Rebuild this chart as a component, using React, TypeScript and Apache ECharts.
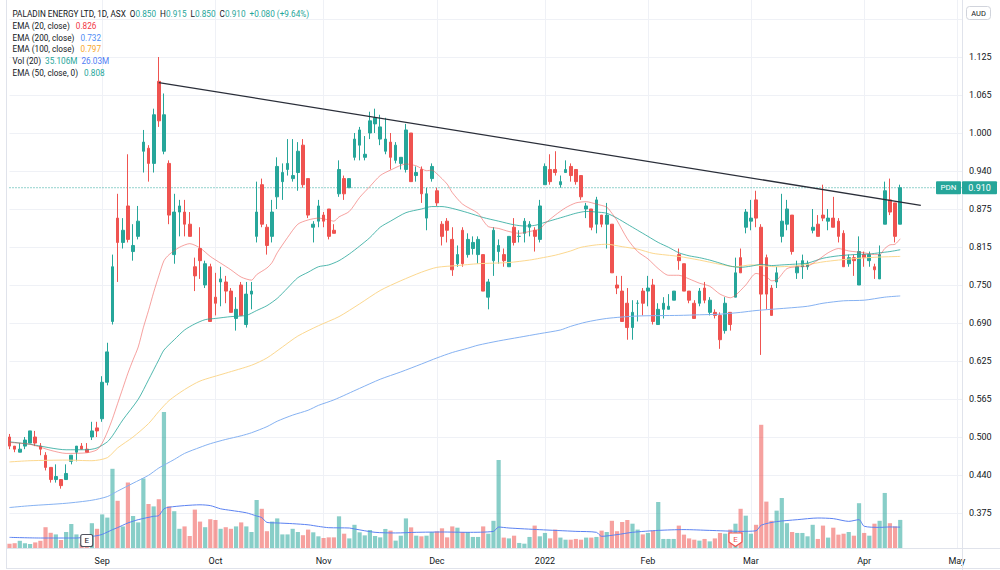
import React, { useEffect, useRef } from "react";
import * as echarts from "echarts";

// ---- Daily bars (oldest first) ----
const opens = [
  0.5, 0.485, 0.475, 0.485, 0.49, 0.5, 0.485, 0.47, 0.45, 0.43,
  0.43, 0.43, 0.46, 0.475, 0.485, 0.48, 0.5, 0.515, 0.53, 0.59,
  0.69, 0.86, 0.82, 0.88, 0.805, 0.83, 0.97, 0.975, 0.95, 1.085,
  0.97, 0.95, 0.8, 0.87, 0.87, 0.85, 0.78, 0.81, 0.75, 0.78,
  0.73, 0.755, 0.755, 0.74, 0.695, 0.75, 0.685, 0.735, 0.83, 0.915,
  0.845, 0.83, 0.895, 0.92, 0.94, 0.925, 0.935, 0.98, 0.925, 0.845,
  0.855, 0.865, 0.875, 0.84, 0.9, 0.925, 0.91, 0.96, 0.98, 0.96,
  1.0, 1.015, 0.99, 0.97, 0.985, 0.955, 0.95, 0.94, 1.0, 0.93,
  0.94, 0.86, 0.925, 0.905, 0.85, 0.855, 0.825, 0.785, 0.84, 0.8,
  0.81, 0.8, 0.8, 0.73, 0.79, 0.805, 0.8, 0.78, 0.845, 0.83,
  0.835, 0.845, 0.84, 0.825, 0.915, 0.94, 0.94, 0.915, 0.935, 0.945,
  0.94, 0.93, 0.875, 0.875, 0.85, 0.865, 0.85, 0.85, 0.75, 0.74,
  0.72, 0.68, 0.72, 0.74, 0.74, 0.75, 0.685, 0.71, 0.71, 0.725,
  0.8, 0.785, 0.74, 0.72, 0.72, 0.745, 0.705, 0.705, 0.7, 0.675,
  0.705, 0.73, 0.795, 0.845, 0.855, 0.89, 0.845, 0.795, 0.745, 0.755,
  0.83, 0.85, 0.865, 0.77, 0.78, 0.78, 0.84, 0.85, 0.865, 0.855,
  0.86, 0.855, 0.835, 0.785, 0.795, 0.75, 0.8, 0.79, 0.78, 0.76,
  0.85, 0.89, 0.885, 0.85,
];
const highs = [
  0.505, 0.485, 0.49, 0.5, 0.51, 0.51, 0.49, 0.475, 0.45, 0.455,
  0.43, 0.455, 0.47, 0.485, 0.49, 0.49, 0.525, 0.525, 0.6, 0.655,
  0.8, 0.9, 0.86, 0.965, 0.85, 0.88, 1.005, 0.98, 1.04, 1.125,
  1.065, 0.955, 0.9, 0.89, 0.89, 0.87, 0.795, 0.845, 0.79, 0.785,
  0.77, 0.78, 0.765, 0.745, 0.73, 0.755, 0.755, 0.755, 0.92, 0.925,
  0.85, 0.89, 0.96, 0.95, 0.99, 0.99, 0.985, 0.99, 0.925, 0.855,
  0.89, 0.87, 0.875, 0.85, 0.955, 0.93, 0.925, 1.0, 1.01, 0.995,
  1.035, 1.04, 1.03, 1.025, 1.0, 0.985, 0.96, 1.015, 1.0, 0.945,
  0.945, 0.91, 0.95, 0.91, 0.855, 0.86, 0.845, 0.815, 0.845, 0.835,
  0.83, 0.83, 0.8, 0.76, 0.845, 0.825, 0.81, 0.83, 0.86, 0.84,
  0.86, 0.855, 0.845, 0.89, 0.95, 0.965, 0.97, 0.93, 0.955, 0.95,
  0.94, 0.93, 0.885, 0.875, 0.895, 0.865, 0.885, 0.85, 0.765, 0.765,
  0.745, 0.725, 0.725, 0.745, 0.765, 0.76, 0.72, 0.73, 0.735, 0.74,
  0.81, 0.785, 0.74, 0.725, 0.745, 0.755, 0.73, 0.71, 0.705, 0.73,
  0.705, 0.795, 0.81, 0.875, 0.89, 0.905, 0.85, 0.8, 0.75, 0.78,
  0.9, 0.89, 0.865, 0.79, 0.8, 0.79, 0.875, 0.865, 0.915, 0.875,
  0.895, 0.86, 0.84, 0.8, 0.8, 0.83, 0.805, 0.805, 0.785, 0.815,
  0.92, 0.925, 0.885, 0.915,
];
const lows = [
  0.48, 0.475, 0.475, 0.48, 0.49, 0.485, 0.47, 0.445, 0.425, 0.425,
  0.415, 0.43, 0.455, 0.46, 0.48, 0.475, 0.495, 0.5, 0.525, 0.585,
  0.685, 0.755, 0.81, 0.82, 0.79, 0.825, 0.935, 0.92, 0.935, 1.01,
  0.965, 0.85, 0.785, 0.83, 0.83, 0.83, 0.74, 0.76, 0.745, 0.69,
  0.7, 0.715, 0.72, 0.705, 0.675, 0.7, 0.68, 0.71, 0.82, 0.845,
  0.8, 0.82, 0.875, 0.89, 0.93, 0.92, 0.905, 0.91, 0.86, 0.82,
  0.845, 0.845, 0.825, 0.835, 0.895, 0.89, 0.91, 0.955, 0.955, 0.955,
  0.99, 1.0, 0.98, 0.965, 0.94, 0.95, 0.94, 0.935, 0.92, 0.92,
  0.885, 0.84, 0.92, 0.88, 0.815, 0.82, 0.765, 0.78, 0.78, 0.795,
  0.8, 0.785, 0.74, 0.71, 0.765, 0.785, 0.78, 0.78, 0.815, 0.82,
  0.82, 0.83, 0.805, 0.82, 0.915, 0.915, 0.93, 0.91, 0.935, 0.92,
  0.915, 0.89, 0.86, 0.84, 0.835, 0.845, 0.81, 0.77, 0.735, 0.69,
  0.66, 0.66, 0.69, 0.7, 0.715, 0.685, 0.685, 0.695, 0.71, 0.725,
  0.775, 0.74, 0.72, 0.695, 0.715, 0.72, 0.7, 0.695, 0.645, 0.67,
  0.675, 0.73, 0.77, 0.835, 0.84, 0.845, 0.635, 0.71, 0.7, 0.745,
  0.82, 0.84, 0.8, 0.76, 0.76, 0.775, 0.835, 0.83, 0.855, 0.84,
  0.845, 0.82, 0.78, 0.78, 0.765, 0.75, 0.78, 0.78, 0.76, 0.76,
  0.85, 0.865, 0.82, 0.85,
];
const closes = [
  0.485, 0.48, 0.48, 0.495, 0.51, 0.49, 0.48, 0.45, 0.43, 0.435,
  0.42, 0.44, 0.47, 0.485, 0.48, 0.475, 0.51, 0.51, 0.59, 0.64,
  0.78, 0.82, 0.84, 0.825, 0.815, 0.855, 0.985, 0.95, 1.03, 1.02,
  1.03, 0.865, 0.87, 0.88, 0.85, 0.83, 0.765, 0.79, 0.785, 0.69,
  0.72, 0.76, 0.74, 0.705, 0.71, 0.7, 0.735, 0.74, 0.87, 0.85,
  0.815, 0.87, 0.945, 0.935, 0.95, 0.93, 0.97, 0.915, 0.865, 0.85,
  0.88, 0.855, 0.83, 0.835, 0.94, 0.9, 0.925, 0.99, 1.005, 0.965,
  1.02, 1.025, 1.01, 0.99, 0.96, 0.98, 0.96, 1.005, 0.92, 0.935,
  0.9, 0.9, 0.945, 0.885, 0.83, 0.84, 0.775, 0.8, 0.785, 0.825,
  0.82, 0.825, 0.74, 0.755, 0.84, 0.815, 0.79, 0.83, 0.82, 0.83,
  0.855, 0.85, 0.83, 0.88, 0.945, 0.92, 0.935, 0.92, 0.94, 0.93,
  0.92, 0.895, 0.88, 0.845, 0.89, 0.85, 0.865, 0.77, 0.745, 0.69,
  0.68, 0.705, 0.72, 0.72, 0.745, 0.69, 0.71, 0.72, 0.715, 0.74,
  0.79, 0.74, 0.725, 0.695, 0.74, 0.725, 0.725, 0.7, 0.66, 0.72,
  0.685, 0.77, 0.77, 0.87, 0.86, 0.86, 0.735, 0.735, 0.7, 0.77,
  0.855, 0.875, 0.805, 0.78, 0.79, 0.785, 0.845, 0.83, 0.86, 0.86,
  0.845, 0.83, 0.78, 0.795, 0.79, 0.805, 0.795, 0.8, 0.775, 0.8,
  0.905, 0.87, 0.83, 0.91,
];
// Volume, millions of shares
const volumes = [
  5.4, 6, 9, 6, 5, 7, 9, 26, 19, 17,
  10, 20, 30, 17, 6, 6, 31, 24, 42, 38,
  99, 59, 27, 82, 40, 32, 87, 55, 52, 61,
  170, 52, 46, 24, 27, 15, 48, 33, 26, 36,
  35, 24, 26, 24, 27, 32, 27, 20, 60, 49,
  21, 33, 37, 17, 17, 24, 20, 16, 23, 19.6,
  14.6, 12.5, 13.3, 13.3, 39.6, 17.9, 12, 29, 19.6, 15.8,
  22.5, 15, 13.3, 23.8, 21.7, 9.2, 15.4, 37, 25.8, 15.4,
  14.6, 15.4, 20, 20.8, 24.6, 13.3, 27, 25.4, 20, 20,
  13.8, 13.8, 27, 17.9, 34, 110, 13, 12, 15.4, 6.3,
  5.4, 13.8, 28, 14.6, 18.8, 12, 23, 13, 10.4, 10.4,
  11.3, 10.4, 13, 13, 13.8, 21.7, 20, 34, 21, 32.5,
  35, 30.4, 23, 17, 18.8, 21.7, 57.5, 11.3, 11.3, 11.3,
  28, 16.7, 12, 10.4, 9.2, 11.3, 8.3, 12, 18.8, 17.9,
  23, 30.4, 49, 40.4, 17.9, 29, 154, 58, 34, 46.7,
  62.5, 31, 20, 18.8, 18.8, 14.6, 29, 11.3, 28, 13,
  25.4, 16.7, 17.9, 20, 15.4, 56, 18.8, 15.4, 30.4, 34,
  68.8, 31, 27, 35.106,
];

// ---- Indicator lines: [bar index, value] ----
const ema20 = [
  [0, 0.491], [4, 0.488], [8, 0.478], [11, 0.473], [15, 0.474], [17, 0.479], [18, 0.49], [19, 0.508],
  [20, 0.53], [21, 0.555], [22, 0.58], [23, 0.605], [24, 0.627], [25, 0.648], [26, 0.68], [27, 0.708],
  [28, 0.738], [29, 0.765], [30, 0.79], [31, 0.8], [33, 0.812], [35, 0.818], [37, 0.811], [39, 0.797],
  [41, 0.786], [43, 0.775], [45, 0.763], [47, 0.758], [48, 0.767], [50, 0.778], [51, 0.787], [52, 0.803],
  [54, 0.828], [56, 0.85], [58, 0.857], [60, 0.86], [62, 0.857], [63, 0.855], [64, 0.862], [66, 0.871],
  [68, 0.894], [70, 0.912], [72, 0.93], [74, 0.939], [77, 0.949], [79, 0.946], [81, 0.938], [82, 0.939],
  [83, 0.933], [85, 0.916], [86, 0.902], [88, 0.883], [91, 0.868], [92, 0.856], [93, 0.846], [95, 0.843],
  [97, 0.838], [99, 0.835], [101, 0.838], [103, 0.842], [104, 0.851], [106, 0.865], [108, 0.877], [110, 0.885],
  [112, 0.887], [114, 0.883], [116, 0.878], [117, 0.868], [118, 0.856], [120, 0.826], [122, 0.805], [124, 0.793],
  [126, 0.777], [128, 0.766], [130, 0.766], [132, 0.76], [134, 0.753], [136, 0.748], [138, 0.735], [140, 0.729],
  [141, 0.733], [143, 0.75], [145, 0.769], [147, 0.764], [148, 0.757], [149, 0.758], [151, 0.777], [153, 0.78],
  [155, 0.781], [157, 0.791], [159, 0.803], [161, 0.81], [163, 0.806], [166, 0.803], [168, 0.8], [169, 0.8],
  [170, 0.81], [171, 0.816], [172, 0.817], [173, 0.826],
];
const ema50 = [
  [0, 0.492], [4, 0.488], [11, 0.479], [15, 0.479], [17, 0.482], [19, 0.492], [20, 0.502], [22, 0.528],
  [25, 0.562], [27, 0.594], [29, 0.627], [30, 0.643], [32, 0.66], [34, 0.676], [36, 0.686], [38, 0.693],
  [40, 0.695], [43, 0.698], [46, 0.7], [48, 0.708], [50, 0.716], [52, 0.728], [54, 0.745], [56, 0.762],
  [58, 0.771], [60, 0.78], [62, 0.783], [64, 0.79], [66, 0.801], [68, 0.814], [70, 0.828], [72, 0.845],
  [74, 0.855], [77, 0.869], [80, 0.875], [82, 0.879], [84, 0.879], [86, 0.876], [89, 0.869], [92, 0.861],
  [95, 0.855], [98, 0.849], [100, 0.847], [102, 0.848], [104, 0.853], [106, 0.858], [108, 0.863], [110, 0.868],
  [112, 0.871], [114, 0.87], [116, 0.868], [118, 0.86], [120, 0.85], [122, 0.84], [124, 0.83], [126, 0.82],
  [128, 0.812], [130, 0.803], [132, 0.798], [134, 0.795], [136, 0.791], [138, 0.786], [140, 0.781], [142, 0.779],
  [144, 0.781], [146, 0.784], [148, 0.782], [150, 0.783], [152, 0.784], [155, 0.786], [158, 0.794], [161, 0.798],
  [164, 0.8], [167, 0.801], [169, 0.803], [171, 0.805], [173, 0.808],
];
const ema100 = [
  [0, 0.459], [4, 0.461], [11, 0.462], [16, 0.461], [19, 0.466], [21, 0.482], [24, 0.5], [27, 0.522],
  [29, 0.542], [31, 0.56], [34, 0.578], [37, 0.592], [42, 0.605], [47, 0.618], [50, 0.63], [53, 0.648],
  [56, 0.666], [60, 0.683], [64, 0.698], [68, 0.719], [72, 0.741], [76, 0.757], [80, 0.771], [83, 0.779],
  [87, 0.782], [91, 0.785], [97, 0.787], [101, 0.791], [103, 0.794], [106, 0.799], [109, 0.806], [111, 0.812],
  [114, 0.816], [116, 0.817], [119, 0.813], [122, 0.809], [125, 0.802], [130, 0.797], [134, 0.791], [138, 0.784],
  [141, 0.78], [144, 0.783], [147, 0.781], [149, 0.78], [152, 0.781], [156, 0.785], [158, 0.788], [161, 0.791],
  [165, 0.794], [169, 0.796], [173, 0.797],
];
const ema200 = [
  [0, 0.384], [4, 0.387], [11, 0.391], [16, 0.396], [19, 0.402], [21, 0.411], [24, 0.424], [27, 0.437],
  [29, 0.449], [32, 0.463], [34, 0.473], [37, 0.483], [39, 0.489], [42, 0.496], [45, 0.502], [47, 0.507],
  [50, 0.517], [52, 0.526], [55, 0.536], [58, 0.544], [60, 0.552], [63, 0.561], [68, 0.58], [72, 0.595],
  [76, 0.607], [80, 0.62], [83, 0.63], [86, 0.639], [89, 0.646], [91, 0.651], [95, 0.658], [99, 0.664],
  [103, 0.67], [107, 0.676], [109, 0.682], [112, 0.689], [116, 0.695], [122, 0.699], [130, 0.7], [134, 0.701],
  [138, 0.702], [142, 0.705], [145, 0.708], [151, 0.712], [155, 0.715], [158, 0.72], [162, 0.724], [166, 0.725],
  [170, 0.73], [173, 0.732],
];
const volMA = [
  [0, 13.3], [6, 12.5], [13, 12.5], [15, 13.8], [17, 15.4], [18, 17], [20, 22.9], [21, 25.5],
  [23, 31.3], [25, 35.4], [28, 39.6], [29, 40.5], [30, 49], [31, 51], [34, 53], [37, 54],
  [39, 53], [41, 49], [43, 47], [46, 44], [48, 40], [49, 38], [50, 32], [52, 31.3],
  [55, 30.4], [58, 29], [60, 27], [62, 25.4], [66, 25], [67, 23.8], [71, 19.6], [75, 18.8],
  [79, 19.6], [84, 20], [89, 19.6], [94, 20.8], [95, 26.2], [97, 25], [103, 22.9], [110, 20.8],
  [114, 19.6], [115, 14.6], [118, 16.7], [121, 19.6], [126, 22], [131, 23], [136, 22], [142, 20.8],
  [145, 21.5], [146, 28.5], [149, 33], [153, 35.4], [157, 37.5], [160, 36.7], [163, 33.3], [165, 35.4],
  [166, 27.2], [169, 25.8], [171, 26.3], [173, 26.03],
];

// Hand-drawn resistance line from the September high
const trendLine = [[29, 1.083], [177, 0.881]];

// Month labels on the time axis: [bar slot, label]
const monthTicks: [number, string][] = [
  [18, "Sep"], [40, "Oct"], [61, "Nov"], [83, "Dec"], [104, "2022"],
  [124, "Feb"], [144, "Mar"], [166, "Apr"], [184, "May"],
];
// Earnings markers: [bar index, style]
const earnings: [number, string][] = [[15, "past"], [141, "recent"]];

const SLOT_COUNT = 186; // trading days plus empty space on the right

const UP = "#26a69a";
const DOWN = "#ef5350";
const VOL_UP = "rgba(38,166,154,0.55)";
const VOL_DOWN = "rgba(239,83,80,0.55)";
const GRID = "#eff1f6";
const BORDER = "#e0e3eb";
const TEXT = "#131722";
const FONT = "Roboto";

const C_EMA20 = "rgba(239,83,80,0.55)";
const C_EMA50 = "rgba(38,166,154,0.8)";
const C_EMA100 = "#fcd88f";
const C_EMA200 = "#86b2f2";
const C_VOLMA = "#5b82f2";

export default function App() {
  const ref = useRef<HTMLDivElement>(null);

  useEffect(() => {
    const el = ref.current;
    if (!el) return;
    const chart = echarts.init(el, null, { renderer: "svg" });

    const slots = Array.from({ length: SLOT_COUNT }, (_, i) => String(i));
    const tickMap = new Map<number, string>(monthTicks);
    const isTick = (i: number) => tickMap.has(i);
    const candles = opens.map((o, i) => [o, closes[i], lows[i], highs[i]]);
    const volBars = volumes.map((v, i) => ({
      value: v,
      itemStyle: { color: closes[i] >= opens[i] ? VOL_UP : VOL_DOWN },
    }));
    const last = closes.length - 1;
    const lastClose = closes[last];

    const baseX = (gridIndex: number) => ({
      type: "category",
      gridIndex,
      data: slots,
      boundaryGap: false,
      axisLine: { show: false },
      axisTick: { show: false },
      axisLabel: { show: false },
      splitLine: { show: false },
    });

    const line = (data: number[][], color: string, x = 0, y = 0, z = 4, width = 1) => ({
      type: "line",
      xAxisIndex: x,
      yAxisIndex: y,
      data,
      symbol: "none",
      showSymbol: false,
      smooth: 0.25,
      silent: true,
      clip: false,
      z,
      lineStyle: { color, width },
    });

    const priceLabel = (v: number) => {
      if (v < 0.34 || v > 1.15) return "";
      return (Math.round(v / 0.005 + 1e-9) * 0.005).toFixed(3);
    };

    chart.setOption({
      animation: false,
      backgroundColor: "#ffffff",
      grid: [
        { left: 9.5, right: 38, top: 0, height: 551 },
        { left: 9.5, right: 38, bottom: 22, height: 160 },
        { left: 9.5, right: 38, top: 0, bottom: 22 },
      ],
      xAxis: [
        baseX(0),
        baseX(1),
        {
          ...baseX(2),
          axisLabel: {
            show: true,
            interval: (i: number) => isTick(i),
            formatter: (v: string) => tickMap.get(Number(v)) ?? "",
            color: TEXT,
            fontSize: 9,
            fontFamily: FONT,
            margin: 8,
          },
          splitLine: {
            show: true,
            interval: (i: number) => isTick(i),
            lineStyle: { color: GRID, width: 1 },
          },
        },
      ],
      yAxis: [
        {
          type: "value",
          gridIndex: 0,
          position: "right",
          min: 0.3125,
          max: 1.21875,
          interval: 0.0625,
          axisLine: { show: false },
          axisTick: { show: false },
          splitLine: {
            show: true,
            showMinLine: false,
            showMaxLine: false,
            lineStyle: { color: GRID, width: 1 },
          },
          axisLabel: {
            formatter: priceLabel,
            color: TEXT,
            fontSize: 9,
            fontFamily: FONT,
            margin: 7,
          },
        },
        { type: "value", gridIndex: 1, min: 0, max: 200, show: false },
        { type: "value", gridIndex: 2, min: 0, max: 1, show: false },
      ],
      series: [
        {
          type: "bar",
          xAxisIndex: 1,
          yAxisIndex: 1,
          data: volBars,
          barWidth: 4.2,
          clip: false,
          silent: true,
          z: 1,
        },
        line(volMA, C_VOLMA, 1, 1, 2),
        // last-price guide line
        {
          type: "line",
          xAxisIndex: 0,
          yAxisIndex: 0,
          data: [[0, lastClose], [SLOT_COUNT - 1, lastClose]],
          symbol: "none",
          silent: true,
          clip: false,
          z: 2,
          lineStyle: { color: UP, type: [1, 2], width: 1 },
        },
        {
          type: "candlestick",
          xAxisIndex: 0,
          yAxisIndex: 0,
          data: candles,
          barWidth: 3.2,
          clip: false,
          silent: true,
          z: 3,
          itemStyle: {
            color: UP,
            color0: DOWN,
            borderColor: UP,
            borderColor0: DOWN,
            borderWidth: 1,
          },
        },
        line(ema200, C_EMA200),
        line(ema100, C_EMA100),
        line(ema50, C_EMA50),
        line(ema20, C_EMA20),
        {
          type: "line",
          xAxisIndex: 0,
          yAxisIndex: 0,
          data: trendLine,
          symbol: "none",
          silent: true,
          clip: false,
          z: 6,
          lineStyle: { color: "#2a2e39", width: 1.3 },
        },
      ],
    });

    // ---- Overlays: legend, price tag, currency badge, earnings flags, frame ----
    const pxX = (i: number) => chart.convertToPixel({ xAxisIndex: 2 }, i) as number;
    const pxY = chart.convertToPixel({ yAxisIndex: 0 }, lastClose) as number;

    const rich: Record<string, any> = {
      d: { fill: TEXT, fontSize: 8.2, fontFamily: FONT },
      g: { fill: UP, fontSize: 8.2, fontFamily: FONT },
      r: { fill: "#f23645", fontSize: 8.2, fontFamily: FONT },
      b: { fill: "#4f8ef5", fontSize: 8.2, fontFamily: FONT },
      o: { fill: "#f7a72b", fontSize: 8.2, fontFamily: FONT },
      v: { fill: "#4f7cf5", fontSize: 8.2, fontFamily: FONT },
    };
    const legendRow = (y: number, parts: [string, string][]) => ({
      type: "text",
      x: 12.5,
      y,
      z: 50,
      silent: true,
      style: {
        text: parts.map(([s, k]) => `{${k}|${s}}`).join(""),
        rich,
        fontSize: 8.2,
        fontFamily: FONT,
        verticalAlign: "middle",
        textVerticalAlign: "middle",
      },
    });

    const chg = lastClose - closes[last - 1];
    const pct = (chg / closes[last - 1]) * 100;
    const sign = chg >= 0 ? "+" : "−";
    const lastOf = (arr: number[][]) => arr[arr.length - 1][1];

    const graphics: any[] = [
      legendRow(14, [
        ["PALADIN ENERGY LTD, 1D, ASX", "d"],
        ["  O", "d"], [opens[last].toFixed(3), "g"],
        ["  H", "d"], [highs[last].toFixed(3), "g"],
        ["  L", "d"], [lows[last].toFixed(3), "g"],
        ["  C", "d"], [closes[last].toFixed(3), "g"],
        [`  ${sign}${Math.abs(chg).toFixed(3)} (${sign}${Math.abs(pct).toFixed(2)}%)`, "g"],
      ]),
      legendRow(25.8, [["EMA (20, close)", "d"], ["   " + lastOf(ema20).toFixed(3), "r"]]),
      legendRow(37.6, [["EMA (200, close)", "d"], ["   " + lastOf(ema200).toFixed(3), "b"]]),
      legendRow(49.4, [["EMA (100, close)", "d"], ["   " + lastOf(ema100).toFixed(3), "o"]]),
      legendRow(61.2, [
        ["Vol (20)", "d"],
        ["  " + volumes[last].toFixed(3) + "M", "g"],
        ["  " + lastOf(volMA).toFixed(2) + "M", "v"],
      ]),
      legendRow(73, [["EMA (50, close, 0)", "d"], ["   " + lastOf(ema50).toFixed(3), "g"]]),

      // frame
      { type: "line", z: 40, silent: true, shape: { x1: 962.5, y1: 0, x2: 962.5, y2: 570 }, style: { stroke: BORDER, lineWidth: 1 } },
      { type: "line", z: 40, silent: true, shape: { x1: 6.5, y1: 548.5, x2: 1000, y2: 548.5 }, style: { stroke: BORDER, lineWidth: 1 } },
      { type: "line", z: 40, silent: true, shape: { x1: 6.5, y1: 0, x2: 6.5, y2: 569 }, style: { stroke: BORDER, lineWidth: 1 } },
      { type: "line", z: 40, silent: true, shape: { x1: 6.5, y1: 568.5, x2: 1000, y2: 568.5 }, style: { stroke: BORDER, lineWidth: 1 } },

      // currency badge
      { type: "rect", z: 45, silent: true, shape: { x: 966.5, y: 6.5, width: 24, height: 13, r: 3 }, style: { fill: "#fff", stroke: "#d1d4dc", lineWidth: 1 } },
      { type: "text", z: 46, silent: true, x: 978.5, y: 13, style: { text: "AUD", fill: TEXT, fontSize: 7.5, fontFamily: FONT, align: "center", verticalAlign: "middle", textAlign: "center", textVerticalAlign: "middle" } },

      // last price tag
      { type: "rect", z: 45, silent: true, shape: { x: 936, y: pxY - 6.5, width: 25, height: 13, r: 1 }, style: { fill: UP } },
      { type: "text", z: 46, silent: true, x: 948.5, y: pxY, style: { text: "PDN", fill: "#fff", fontSize: 8, fontFamily: FONT, align: "center", verticalAlign: "middle", textAlign: "center", textVerticalAlign: "middle" } },
      { type: "rect", z: 45, silent: true, shape: { x: 962, y: pxY - 6.5, width: 35, height: 13, r: 1 }, style: { fill: UP } },
      { type: "text", z: 46, silent: true, x: 979.5, y: pxY, style: { text: lastClose.toFixed(3), fill: "#fff", fontSize: 9, fontFamily: FONT, align: "center", verticalAlign: "middle", textAlign: "center", textVerticalAlign: "middle" } },
    ];

    earnings.forEach(([bar, kind]) => {
      const ex = pxX(bar);
      if (kind === "past") {
        graphics.push(
          { type: "rect", z: 45, silent: true, shape: { x: ex - 6, y: 534.5, width: 12, height: 12, r: 2 }, style: { fill: "#fff", stroke: "#50535e", lineWidth: 1.2 } },
          { type: "text", z: 46, silent: true, x: ex, y: 540.8, style: { text: "E", fill: TEXT, fontSize: 8, fontFamily: FONT, align: "center", verticalAlign: "middle", textAlign: "center", textVerticalAlign: "middle" } }
        );
      } else {
        graphics.push(
          { type: "polygon", z: 45, silent: true, shape: { points: [[ex - 6.5, 533], [ex + 6.5, 533], [ex + 6.5, 542], [ex, 546.5], [ex - 6.5, 542]] }, style: { fill: "#fff", stroke: DOWN, lineWidth: 1.2 } },
          { type: "text", z: 46, silent: true, x: ex, y: 539, style: { text: "E", fill: DOWN, fontSize: 8, fontFamily: FONT, align: "center", verticalAlign: "middle", textAlign: "center", textVerticalAlign: "middle" } }
        );
      }
    });

    chart.setOption({ graphic: graphics });

    return () => chart.dispose();
  }, []);

  return (
    <div
      ref={ref}
      style={{ position: "fixed", left: 0, top: 0, width: 1000, height: 570, background: "#fff" }}
    />
  );
}
